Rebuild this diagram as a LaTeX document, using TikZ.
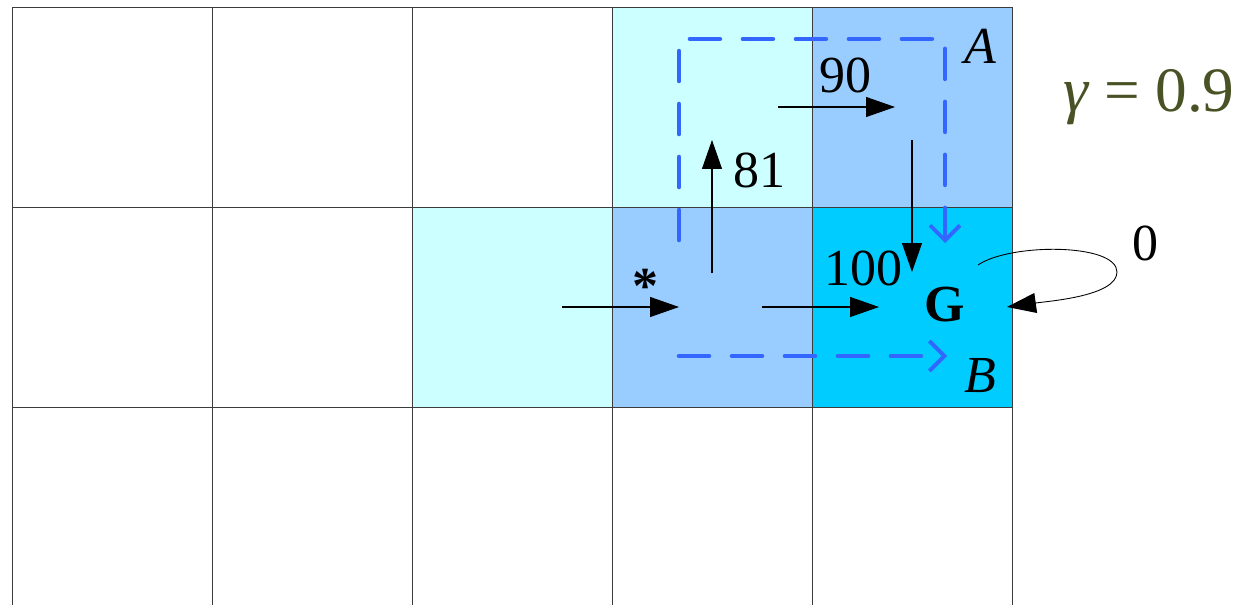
\documentclass[tikz,border=0pt]{standalone}
\usepackage{fontspec}
\setmainfont{Liberation Serif}
\usetikzlibrary{arrows.meta}
\definecolor{lcyan}{RGB}{204,255,255}
\definecolor{lblue}{RGB}{153,204,255}
\definecolor{goalc}{RGB}{0,204,255}
\definecolor{dashb}{RGB}{51,102,255}
\definecolor{olivet}{RGB}{72,82,36}
\definecolor{gridc}{RGB}{60,60,60}
\tikzset{
  gridline/.style={draw=gridc, line width=0.5pt},
  qarrow/.style={draw=black, line width=0.6pt, -{Triangle[length=0.58cm,width=0.4cm]}},
  patharrow/.style={draw=dashb, line width=2.6pt, line cap=round, dash pattern=on 0.6cm off 0.46cm, -{Straight Barb[length=0.3cm,width=0.6cm,line width=2.2pt]}},
  lbl/.style={inner sep=0pt, font=\rmfamily\fontsize{29.6}{30}\selectfont},
}
\begin{document}
\begin{tikzpicture}[x=0.02cm,y=-0.02cm]
\useasboundingbox (0,0) rectangle (1249,605);
% cell fills
\fill[lcyan] (612,7) rectangle (812,207);
\fill[lblue] (812,7) rectangle (1012,207);
\fill[lcyan] (412,207) rectangle (612,407);
\fill[lblue] (612,207) rectangle (812,407);
\fill[goalc] (812,207) rectangle (1012,407);
% grid
\foreach \x in {12,212,412,612,812,1012} \draw[gridline] (\x,7) -- (\x,605);
\foreach \y in {7,207,407} \draw[gridline] (12,\y) -- (1012,\y);
% dashed paths
\coordinate (a0) at (679,240);
\coordinate (a1) at (679,39);
\coordinate (a2) at (945,39);
\coordinate (a3) at (945,243);
\draw[patharrow] (a0) -- (a1) -- (a2) -- (a3);
\coordinate (b0) at (679,356);
\coordinate (b1) at (947,356);
\draw[patharrow] (b0) -- (b1);
% Q arrows
\coordinate (s0) at (562,307);
\coordinate (s1) at (679,307);
\draw[qarrow] (s0) -- (s1);
\coordinate (r0) at (762,307);
\coordinate (r1) at (879,307);
\draw[qarrow] (r0) -- (r1);
\coordinate (u0) at (712,273);
\coordinate (u1) at (712,140);
\draw[qarrow] (u0) -- (u1);
\coordinate (t0) at (778,107);
\coordinate (t1) at (895,107);
\draw[qarrow] (t0) -- (t1);
\coordinate (d0) at (912,140);
\coordinate (d1) at (912,272);
\draw[qarrow] (d0) -- (d1);
\coordinate (l0) at (978,265);
\coordinate (l1) at (1007,307);
\draw[draw=black, line width=0.5pt, -{Triangle[length=0.58cm,width=0.4cm]}]
  (l0) .. controls (1010,243) and (1117,243) .. (1117,272)
       .. controls (1117,296) and (1050,301) .. (l1);
% labels
\node[lbl] (n90) at (845,75) {90};
\node[lbl] (n81) at (759,170) {81};
\node[lbl] (n100) at (863,268) {100};
\node[lbl] (n0) at (1145,243) {0};
\node[lbl] (nA) at (980,46) {\itshape A};
\node[lbl] (nB) at (980,376) {\itshape B};
\node[lbl] (nG) at (945,305) {\bfseries G};
\node[lbl] (star) at (645,286) {\bfseries *};
\node[inner sep=0pt, anchor=base west, text=olivet, font=\rmfamily\fontsize{36}{36}\selectfont] (gam) at (1063,112) {\itshape γ\upshape\ = 0.9};
\end{tikzpicture}
\end{document}
